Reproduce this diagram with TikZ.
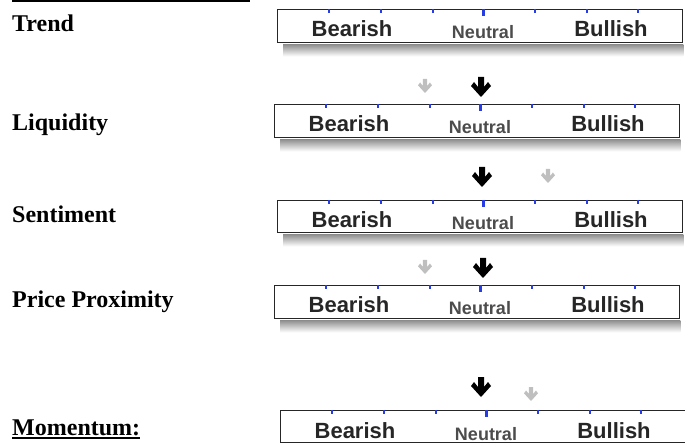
\documentclass[tikz,border=0pt]{standalone}
\usepackage{fontspec}
\setmainfont{Liberation Serif}
\newfontfamily\barfont{Liberation Sans}
\usepackage{xcolor}
\usepackage{tikz}

\definecolor{tickblue}{RGB}{40,60,230}
\tikzset{
  dnarrow/.pic={\fill (-3,0) -- (3,0) -- (3,10) -- (7,5) -- (10,9) -- (0,20) -- (-10,9) -- (-7,5) -- (-3,10) -- cycle;}
}

\begin{document}
\begin{tikzpicture}[x=1pt, y=-1pt,
  meter/.style={draw=black!85, line width=1.4pt, fill=white, minimum width=405pt, inner sep=0pt, anchor=north west},
  heading/.style={font=\fontsize{24}{28}\selectfont\bfseries, anchor=base west, inner sep=0pt},
  bigword/.style={font=\barfont\fontsize{22}{26}\selectfont\bfseries, text=black!85, anchor=base, inner sep=0pt},
  smallword/.style={font=\barfont\fontsize{18}{22}\selectfont\bfseries, text=black!70, anchor=base, inner sep=0pt},
  tick/.style={tickblue, line width=1.5pt}]
\useasboundingbox (0,0) rectangle (685,443);

\draw[line width=2.5pt] (12,1) -- (250,1);

% the five scales
\foreach \n/\x/\y/\h/\lab/\ly in {1/277/9/33/Trend/32, 2/274/104/33/Liquidity/131, 3/277/200/32/Sentiment/223, 4/274/285/33/Price Proximity/308, 5/280/410/32/Momentum:/435} {
  \node[heading] (lab\n) at (12,\ly) {\lab};
  \node[meter, minimum height=\h pt] (bar\n) at (\x,\y) {};
  \shade[top color=black!45, bottom color=white] ([xshift=6pt, yshift=-0.7pt]bar\n.south west) rectangle ([yshift=-13pt]bar\n.south east);
  \foreach \t in {52,104,156,258,310,361}
    \draw[tick] ([xshift=\t pt]bar\n.north west) -- ++(0,4);
  \draw[tick, line width=3pt] ([xshift=206pt]bar\n.north west) -- ++(0,7);
  \node[bigword] (bear\n) at ([xshift=75pt, yshift=-28pt]bar\n.north west) {Bearish};
  \node[smallword] (neut\n) at ([xshift=206pt, yshift=-30pt]bar\n.north west) {Neutral};
  \node[bigword] (bull\n) at ([xshift=334pt, yshift=-28pt]bar\n.north west) {Bullish};
}
\draw[line width=2pt] ([yshift=-2.5pt]lab5.base west) -- ([yshift=-2.5pt]lab5.base east);

% arrows between the scales
\pic[black!25, scale=0.7] at (425,79) {dnarrow};
\pic[black] at (481,77) {dnarrow};
\pic[black] at (482,167) {dnarrow};
\pic[black!25, scale=0.7] at (548,169) {dnarrow};
\pic[black!25, scale=0.7] at (425,260) {dnarrow};
\pic[black] at (483,258) {dnarrow};
\pic[black] at (481,377) {dnarrow};
\pic[black!25, scale=0.7] at (531,387) {dnarrow};
\end{tikzpicture}
\end{document}
